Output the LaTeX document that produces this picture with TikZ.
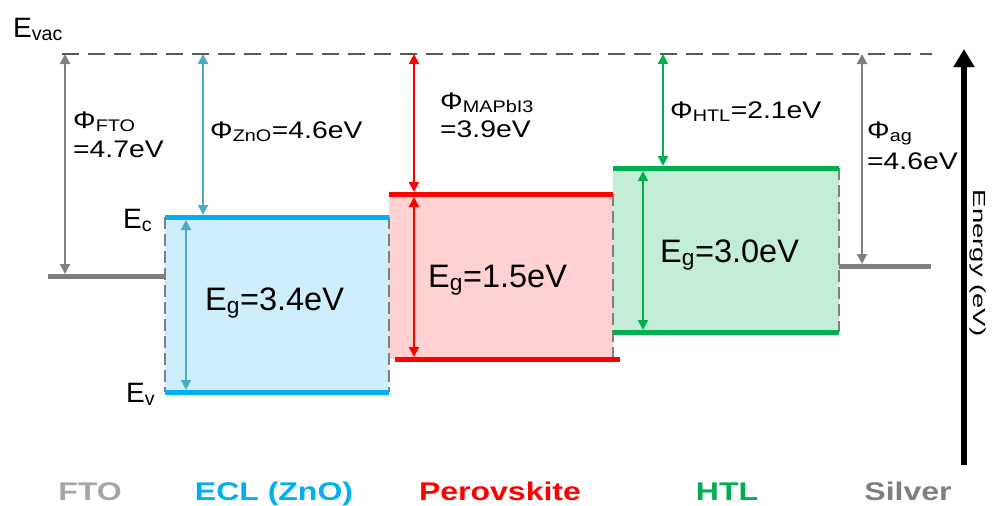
\documentclass[tikz,border=0pt]{standalone}
\usepackage{graphicx}
\usepackage{fontspec}
\setmainfont{Liberation Sans}
\usetikzlibrary{arrows.meta}
\definecolor{lvgray}{HTML}{7F7F7F}
\definecolor{dashgray}{HTML}{595959}
\definecolor{ftogray}{HTML}{A6A6A6}
\definecolor{zblue}{HTML}{00B0F0}
\definecolor{zarrow}{HTML}{4BACC6}
\definecolor{zfill}{HTML}{CFEEFB}
\definecolor{pred}{HTML}{FF0000}
\definecolor{pfill}{HTML}{FFD1D1}
\definecolor{hgreen}{HTML}{00B050}
\definecolor{hfill}{HTML}{C3EDD6}
\newcommand\fsPhi{\fontsize{24}{28}\selectfont}
\newcommand\fsE{\fontsize{28}{32}\selectfont}
\newcommand\fsEg{\fontsize{32.5}{34}\selectfont}
\newcommand\fsLab{\fontsize{25.6}{30}\selectfont\bfseries}
\newcommand\phitxt[1]{\scalebox{1.18}[1]{#1}}
\newcommand\labtxt[1]{\scalebox{1.25}[1]{#1}}
\begin{document}
\begin{tikzpicture}[x=1pt,y=-1pt,
  dbl/.style={{Triangle[width=10pt,length=10pt]}-{Triangle[width=10pt,length=10pt]}, line width=2pt},
  level/.style={line width=5pt},
  edge/.style={dash pattern=on 12pt off 5pt, line width=2.2pt, draw=lvgray},
  txt/.style={anchor=base west, inner sep=0pt, text=black},
  lab/.style={anchor=base, inner sep=0pt}]
\useasboundingbox (0,0) rectangle (997,506);
% fills
\fill[zfill] (165,217) rectangle (389,392);
\fill[pfill] (389,194) rectangle (613,359);
\fill[hfill] (613,168) rectangle (839,332);
% box edges
\draw[edge] (165,217) -- (165,392);
\draw[edge] (389,217) -- (389,392);
\draw[edge] (613,194) -- (613,359);
\draw[edge] (839,168) -- (839,332);
% vacuum level
\coordinate (vacL) at (62,54);
\coordinate (vacR) at (932,54);
\draw[dashgray, line width=2.4pt, dash pattern=on 17pt off 9pt] (vacL) -- (vacR);
% levels
\coordinate (ftoL) at (48,276); \coordinate (ftoR) at (165,276);
\draw[level, lvgray] (ftoL) -- (ftoR);
\coordinate (agL) at (839,266); \coordinate (agR) at (931,266);
\draw[level, lvgray] (agL) -- (agR);
\coordinate (zcL) at (165,217); \coordinate (zcR) at (389,217);
\coordinate (zvL) at (165,392); \coordinate (zvR) at (389,392);
\draw[level, zblue] (zcL) -- (zcR);
\draw[level, zblue] (zvL) -- (zvR);
\coordinate (pcL) at (389,194); \coordinate (pcR) at (613,194);
\coordinate (pvL) at (395,359); \coordinate (pvR) at (620,359);
\draw[level, pred] (pcL) -- (pcR);
\draw[level, pred] (pvL) -- (pvR);
\coordinate (hcL) at (613,168); \coordinate (hcR) at (839,168);
\coordinate (hvL) at (613,332); \coordinate (hvR) at (839,332);
\draw[level, hgreen] (hcL) -- (hcR);
\draw[level, hgreen] (hvL) -- (hvR);
% work function arrows
\coordinate (a1t) at (65,54); \coordinate (a1b) at (65,274);
\draw[dbl, lvgray] (a1t) -- (a1b);
\coordinate (a2t) at (203,54); \coordinate (a2b) at (203,215);
\draw[dbl, zarrow] (a2t) -- (a2b);
\coordinate (a3t) at (414,54); \coordinate (a3b) at (414,192);
\draw[dbl, pred] (a3t) -- (a3b);
\coordinate (a4t) at (663,54); \coordinate (a4b) at (663,166);
\draw[dbl, hgreen] (a4t) -- (a4b);
\coordinate (a5t) at (862,54); \coordinate (a5b) at (862,264);
\draw[dbl, lvgray] (a5t) -- (a5b);
% band gap arrows
\coordinate (g1t) at (186,220); \coordinate (g1b) at (186,390);
\draw[dbl, zarrow] (g1t) -- (g1b);
\coordinate (g2t) at (414,197); \coordinate (g2b) at (414,357);
\draw[dbl, pred] (g2t) -- (g2b);
\coordinate (g3t) at (643,171); \coordinate (g3b) at (643,330);
\draw[dbl, hgreen] (g3t) -- (g3b);
% energy axis
\coordinate (enB) at (964,465); \coordinate (enT) at (964,49);
\draw[line width=6pt, -{Triangle[width=20pt,length=18pt]}] (enB) -- (enT);
\node[rotate=-90, anchor=base, inner sep=0pt] (energy) at (973,263)
  {\scalebox{1.57}[1]{\fontsize{17.5}{20}\selectfont Energy (eV)}};
% texts
\node[txt, font=\fsE] (evac) at (13,37) {E\textsubscript{vac}};
\node[txt, font=\fsPhi] (pf1) at (73,128) {\phitxt{Φ\textsubscript{FTO}}};
\node[txt, font=\fsPhi] (pf2) at (73,157) {\phitxt{=4.7eV}};
\node[txt, font=\fsPhi] (pz) at (210,138) {\phitxt{Φ\textsubscript{ZnO}=4.6eV}};
\node[txt, font=\fsPhi] (pm1) at (440,109) {\phitxt{Φ\textsubscript{MAPbI3}}};
\node[txt, font=\fsPhi] (pm2) at (440,137) {\phitxt{=3.9eV}};
\node[txt, font=\fsPhi] (ph) at (670,118) {\phitxt{Φ\textsubscript{HTL}=2.1eV}};
\node[txt, font=\fsPhi] (pa1) at (867,138) {\phitxt{Φ\textsubscript{ag}}};
\node[txt, font=\fsPhi] (pa2) at (867,169) {\phitxt{=4.6eV}};
\node[txt, font=\fsE] (ec) at (123,228) {E\textsubscript{c}};
\node[txt, font=\fsE] (ev) at (126,402) {E\textsubscript{v}};
\node[txt, font=\fsEg] (eg1) at (205,310) {E\textsubscript{g}=3.4eV};
\node[txt, font=\fsEg] (eg2) at (428,287) {E\textsubscript{g}=1.5eV};
\node[txt, font=\fsEg] (eg3) at (660,262) {E\textsubscript{g}=3.0eV};
% layer labels
\node[lab, font=\fsLab, text=ftogray] (lfto) at (90,500) {\labtxt{FTO}};
\node[lab, font=\fsLab, text=zblue] (lecl) at (274,500) {\labtxt{ECL (ZnO)}};
\node[lab, font=\fsLab, text=pred] (lper) at (500,500) {\labtxt{Perovskite}};
\node[lab, font=\fsLab, text=hgreen] (lhtl) at (727,500) {\labtxt{HTL}};
\node[lab, font=\fsLab, text=lvgray] (lsil) at (908,500) {\labtxt{Silver}};
\end{tikzpicture}
\end{document}
